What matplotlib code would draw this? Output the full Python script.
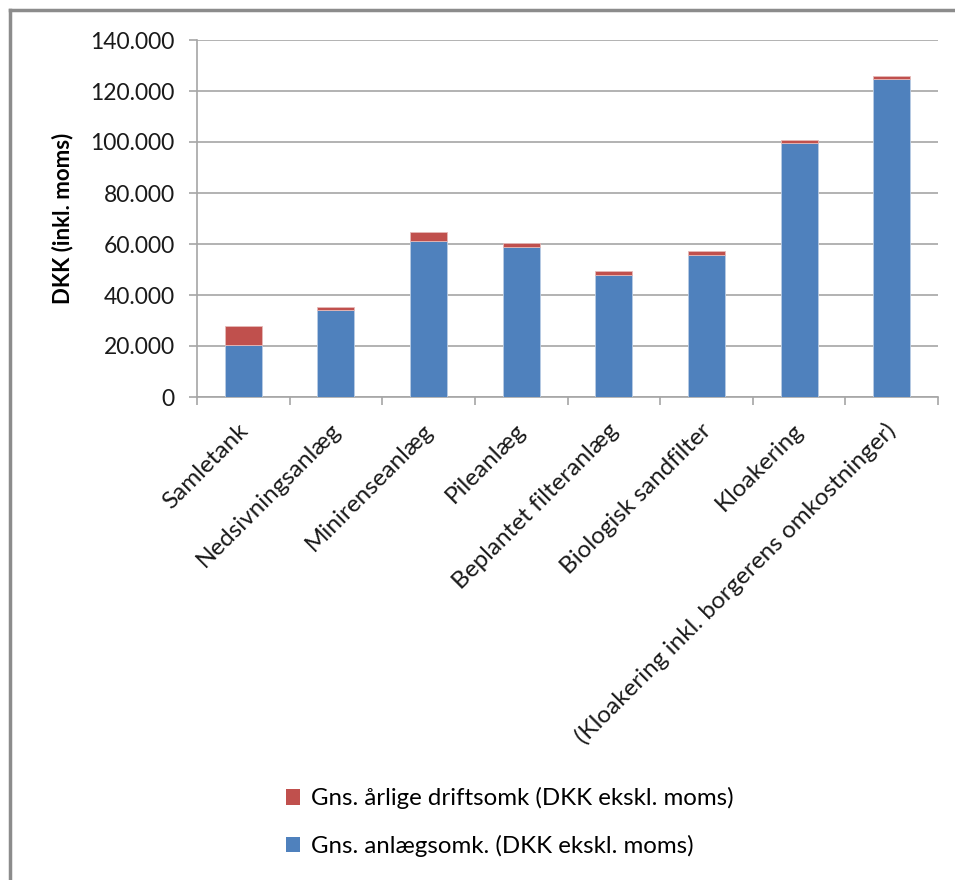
import matplotlib
matplotlib.use("Agg")
import matplotlib.pyplot as plt
import matplotlib.transforms as mtransforms
from matplotlib.lines import Line2D
from matplotlib.patches import Patch
import numpy as np

categories = ["Samletank", "Nedsivningsanlæg", "Minirenseanlæg", "Pileanlæg",
              "Beplantet filteranlæg", "Biologisk sandfilter", "Kloakering",
              "(Kloakering inkl. borgerens omkostninger)"]
anlaeg = [20500, 34200, 61000, 59000, 47800, 55500, 99700, 124800]
drift = [7300, 1000, 3900, 1400, 1600, 1600, 900, 1100]
yticks = [0, 20000, 40000, 60000, 80000, 100000, 120000, 140000]
ytick_labels = ["0", "20.000", "40.000", "60.000", "80.000", "100.000", "120.000", "140.000"]
label_anlaeg = "Gns. anlægsomk. (DKK ekskl. moms)"
label_drift = "Gns. årlige driftsomk (DKK ekskl. moms)"
ylabel = "DKK (inkl. moms)"

blue = "#4F81BD"
red = "#C0504D"
grid_c = "#a6a6a6"
font = ["Lato", "DejaVu Sans"]
plt.rcParams['font.family'] = font

fig = plt.figure(figsize=(9.55, 8.8), dpi=100)
ax = fig.add_axes([197/955, 1-397/880, (938-197)/955, (397-40)/880])

x = np.arange(len(categories))
ax.bar(x, anlaeg, width=0.4, color=blue, edgecolor="#b8cce4", linewidth=0.6, zorder=3)
ax.bar(x, drift, width=0.4, bottom=anlaeg, color=red, edgecolor="#e6b9b8", linewidth=0.6, zorder=3)

ax.set_xlim(-0.5, len(categories) - 0.5)
ax.set_ylim(0, 140000)
ax.set_yticks(yticks)
ax.set_yticklabels(ytick_labels, fontsize=16.5, color="#1a1a1a")
ax.yaxis.grid(True, color=grid_c, linewidth=1.2, zorder=0)
ax.set_axisbelow(True)

# category labels, rotated 45 degrees, ending just below each category
ax.set_xticks(x)
ax.set_xticklabels([])
ax.tick_params(axis="x", which="major", length=0)
trans = mtransforms.blended_transform_factory(ax.transData, ax.transAxes) + \
    mtransforms.ScaledTranslation(1/100, -30/100, fig.dpi_scale_trans)
for xi, name in zip(x, categories):
    ax.text(xi, 0, name, transform=trans, rotation=45, ha="right", va="center",
            rotation_mode="anchor", fontsize=17.5, color="#1a1a1a", clip_on=False)

ax.set_xticks(np.arange(-0.5, len(categories), 1.0), minor=True)
ax.tick_params(axis="x", which="minor", length=6, width=1.2, color=grid_c)
ax.tick_params(axis="y", length=6, width=1.2, color=grid_c, pad=10)

for s in ["top", "right"]:
    ax.spines[s].set_visible(False)
for s in ["left", "bottom"]:
    ax.spines[s].set_color(grid_c)
    ax.spines[s].set_linewidth(1.2)

ax.set_ylabel(ylabel, fontsize=16, fontweight="bold", labelpad=12)

handles = [Patch(facecolor=red, label=label_drift), Patch(facecolor=blue, label=label_anlaeg)]
fig.legend(handles=handles, loc="center", bbox_to_anchor=(510/955, 1-822/880),
           frameon=False, fontsize=17.3, handlelength=0.6, handleheight=0.6,
           handletextpad=0.45, labelspacing=1.05)

# outer chart border (top and left visible)
fig.add_artist(Line2D([10/955, 10/955], [0, 1-10/880], color="#8c8c8c", linewidth=2.5, transform=fig.transFigure))
fig.add_artist(Line2D([10/955, 1], [1-10/880, 1-10/880], color="#8c8c8c", linewidth=2.5, transform=fig.transFigure))

fig.savefig("out.png", dpi=100, facecolor="white")
